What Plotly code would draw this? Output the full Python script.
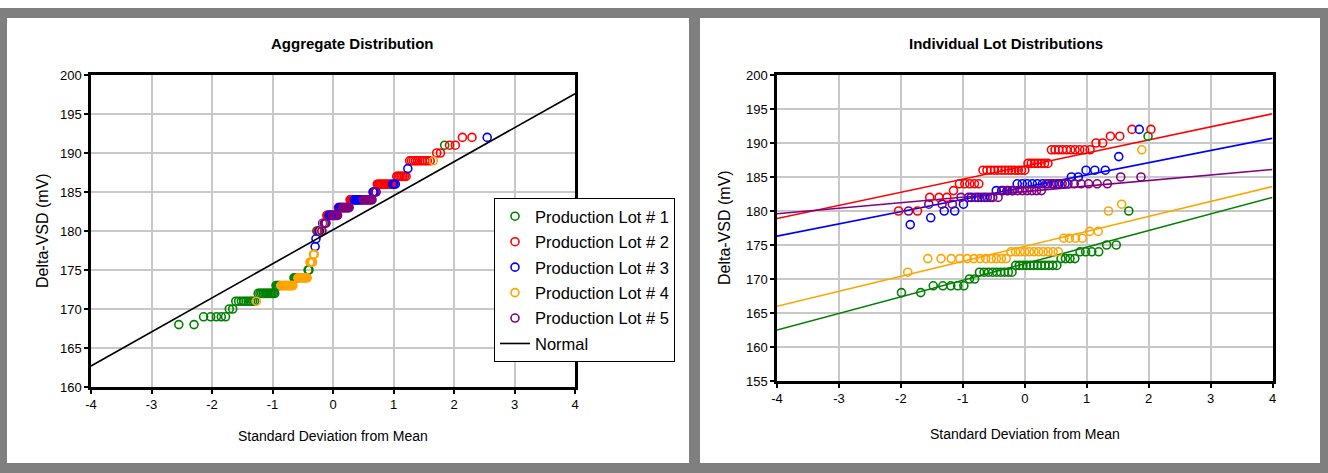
import plotly.graph_objects as go
from statistics import NormalDist

# ---- data -----------------------------------------------------------------
lot_names = ["Production Lot # 1", "Production Lot # 2", "Production Lot # 3",
             "Production Lot # 4", "Production Lot # 5"]
lot_colors = ["#008000", "#ff0000", "#0000ff", "#ffa500", "#800080"]

# Delta-VSD readings (mV) for each production lot, sorted
lot1 = [168, 168, 169, 169, 169, 169, 169, 170, 170,
        171, 171, 171, 171, 171, 171, 171, 171, 171,
        172, 172, 172, 172, 172, 172, 172, 172, 172, 172, 172, 172,
        173, 173, 173, 173, 174, 174, 174, 174, 175, 175, 180, 191]
lot2 = [180, 180, 182, 182, 182, 183, 184, 184, 184, 184, 184,
        186, 186, 186, 186, 186, 186, 186, 186, 186, 186, 186, 186, 186,
        187, 187, 187, 187, 187, 187, 187,
        189, 189, 189, 189, 189, 189, 189, 189, 189, 189,
        190, 190, 191, 191, 192, 192]
lot3 = [178, 179, 180, 180, 181, 182, 182, 182, 182, 183, 183, 183, 183,
        184, 184, 184, 184, 184, 184, 184, 184, 184, 184,
        185, 185, 186, 186, 186, 188, 192]
lot4 = [171, 173, 173, 173, 173, 173, 173, 173, 173, 173, 173, 173, 173,
        174, 174, 174, 174, 174, 174, 174, 174, 174, 174, 174,
        176, 176, 176, 176, 177, 177, 180, 181, 189]
lot5 = [180, 181, 181, 181, 182, 182, 182, 182, 182, 182, 182,
        183, 183, 183, 183, 183, 183, 183, 183, 183,
        184, 184, 184, 184, 184, 184, 184, 184, 184, 184, 185, 185]
lots = [lot1, lot2, lot3, lot4, lot5]

# per-lot normal fit lines: value at -4 and +4 standard deviations
fit_at_lo = [162.5, 178.9, 176.3, 166.0, 179.6]
fit_at_hi = [182.0, 194.3, 190.7, 183.6, 186.1]
# aggregate normal reference line
normal_at_lo, normal_at_hi = 162.7, 197.6

sd_span = [-4, 4]
x_tick_vals = [-4, -3, -2, -1, 0, 1, 2, 3, 4]
x_tick_text = ["-4", "-3", "-2", "-1", "0", "1", "2", "3", "4"]
y1_ticks = [160, 165, 170, 175, 180, 185, 190, 195, 200]
y2_ticks = [155, 160, 165, 170, 175, 180, 185, 190, 195, 200]

# ---- helpers --------------------------------------------------------------
W, H = 1328, 473
nd = NormalDist()


def normal_scores(n):
    return [nd.inv_cdf(i / (n + 1)) for i in range(1, n + 1)]


def fx(px):
    return px / W


def fy(py):
    return 1 - py / H


FONT = "Liberation Sans, Arial, sans-serif"

fig = go.Figure()

# ---- aggregate probability plot (left) ------------------------------------
pooled = sorted(((v, k) for k, lot in enumerate(lots) for v in lot), key=lambda t: t[0])
pooled_z = normal_scores(len(pooled))
for k in range(len(lots)):
    xs = [z for z, (v, g) in zip(pooled_z, pooled) if g == k]
    ys = [v for v, g in pooled if g == k]
    fig.add_trace(go.Scatter(
        x=xs, y=ys, mode="markers", name=lot_names[k],
        marker=dict(symbol="circle-open", size=8, color=lot_colors[k],
                    line=dict(width=1.6, color=lot_colors[k])),
        legendgroup=f"g{k}", xaxis="x", yaxis="y"))

fig.add_trace(go.Scatter(
    x=sd_span, y=[normal_at_lo, normal_at_hi], mode="lines", name="Normal",
    line=dict(color="black", width=1.6), legendgroup="gn",
    xaxis="x", yaxis="y"))

# ---- individual lot probability plots (right) -----------------------------
for k, lot in enumerate(lots):
    fig.add_trace(go.Scatter(
        x=sd_span, y=[fit_at_lo[k], fit_at_hi[k]], mode="lines",
        line=dict(color=lot_colors[k], width=1.6), showlegend=False,
        hoverinfo="skip", xaxis="x2", yaxis="y2"))
for k, lot in enumerate(lots):
    fig.add_trace(go.Scatter(
        x=normal_scores(len(lot)), y=lot, mode="markers", showlegend=False,
        marker=dict(symbol="circle-open", size=8, color=lot_colors[k],
                    line=dict(width=1.6, color=lot_colors[k])),
        xaxis="x2", yaxis="y2"))

axis_common = dict(
    showgrid=True, gridcolor="#c8c8c8", gridwidth=1.5, zeroline=False,
    showline=True, linecolor="black", linewidth=2.5, mirror=True,
    ticks="outside", ticklen=4, tickwidth=1.5, tickcolor="black",
    tickfont=dict(family=FONT, size=13, color="black"),
    automargin=False,
)


def label(text, x, y, size, angle=0):
    return dict(text=text, x=fx(x), y=fy(y), xref="paper", yref="paper",
                xanchor="center", yanchor="middle", showarrow=False,
                textangle=angle, font=dict(family=FONT, size=size, color="black"))


fig.update_layout(
    template="none",
    width=W, height=H,
    margin=dict(l=0, r=0, t=0, b=0, pad=0),
    paper_bgcolor="white", plot_bgcolor="white",
    showlegend=True,
    xaxis=dict(domain=[fx(91), fx(575)], range=sd_span, tickvals=x_tick_vals,
               ticktext=x_tick_text, anchor="y", **axis_common),
    yaxis=dict(domain=[fy(387), fy(75)], range=[160, 200], tickvals=y1_ticks,
               anchor="x", **axis_common),
    xaxis2=dict(domain=[fx(777), fx(1272.5)], range=sd_span, tickvals=x_tick_vals,
                ticktext=x_tick_text, anchor="y2", **axis_common),
    yaxis2=dict(domain=[fy(381), fy(75)], range=[155, 200], tickvals=y2_ticks,
                anchor="x2", **axis_common),
    legend=dict(x=fx(494), y=fy(198), xanchor="left", yanchor="top",
                bgcolor="white", bordercolor="black", borderwidth=1,
                font=dict(family=FONT, size=16.5, color="black"),
                tracegroupgap=1, itemwidth=30),
    shapes=[
        dict(type="rect", xref="paper", yref="paper", x0=0, x1=1, y0=0, y1=fy(8),
             fillcolor="#7f7f7f", line=dict(width=0), layer="below"),
        dict(type="rect", xref="paper", yref="paper", x0=fx(7), x1=fx(689),
             y0=fy(463), y1=fy(18), fillcolor="white", line=dict(width=0),
             layer="below"),
        dict(type="rect", xref="paper", yref="paper", x0=fx(700), x1=fx(1320),
             y0=fy(463), y1=fy(18), fillcolor="white", line=dict(width=0),
             layer="below"),
    ],
    annotations=[
        label("<b>Aggregate Distribution</b>", 353, 44, 15),
        label("<b>Individual Lot Distributions</b>", 1006, 44, 15),
        label("Standard Deviation from Mean", 333, 436, 14),
        label("Standard Deviation from Mean", 1025, 434, 14),
        label("Delta-VSD (mV)", 42, 231, 16, -90),
        label("Delta-VSD (mV)", 724, 228, 16, -90),
    ],
)

fig.write_html("out.html")
